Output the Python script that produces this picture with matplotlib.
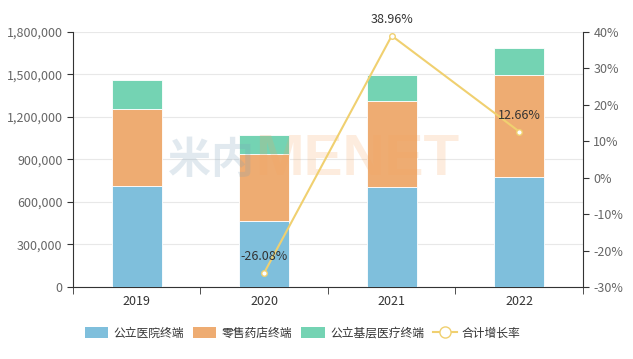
import numpy as np
import matplotlib.pyplot as plt
from matplotlib.patches import Patch
from matplotlib.lines import Line2D
from matplotlib.ticker import FuncFormatter, FixedLocator

plt.rcParams['font.family'] = ['Noto Sans CJK SC', 'DejaVu Sans']

years = ['2019', '2020', '2021', '2022']
hospital = [713000, 464000, 704000, 774000]   # 公立医院终端
pharmacy = [543000, 473000, 607000, 725000]   # 零售药店终端
primary = [205000, 138000, 185000, 188000]    # 公立基层医疗终端
growth = [None, -26.08, 38.96, 12.66]         # 合计增长率

c_blue = '#7fbfdc'
c_orange = '#eeac72'
c_green = '#74d3b3'
c_line = '#f0d070'
c_text = '#666666'

fig = plt.figure(figsize=(6.33, 3.59), dpi=100)
ax = fig.add_axes([0.1153, 0.2006, 0.8057, 0.7103])
x = np.arange(len(years))
w = 0.39

hosp = np.array(hospital)
phar = np.array(pharmacy)
prim = np.array(primary)
ax.bar(x, hosp, w, color=c_blue, edgecolor='white', linewidth=0.6, zorder=3)
ax.bar(x, phar, w, bottom=hosp, color=c_orange, edgecolor='white', linewidth=0.6, zorder=3)
ax.bar(x, prim, w, bottom=hosp + phar, color=c_green, edgecolor='white', linewidth=0.6, zorder=3)

ax.set_ylim(0, 1800000)
ax.set_yticks(np.arange(0, 1800001, 300000))
ax.yaxis.set_major_formatter(FuncFormatter(lambda v, p: f'{int(v):,}'))
ax.grid(axis='y', color='#e8e8e8', linewidth=0.8, zorder=0)
ax.set_xlim(-0.5, 3.5)
ax.set_xticks(x)
ax.set_xticklabels(years)
ax.xaxis.set_minor_locator(FixedLocator(np.arange(-0.5, 3.6, 1)))
ax.tick_params(axis='x', which='major', length=0, labelsize=9, colors='#333333', pad=6)
ax.tick_params(axis='x', which='minor', length=5, color='#333333')
ax.tick_params(axis='y', length=4, labelsize=9, labelcolor=c_text, color='#333333')
for s in ['top', 'right']:
    ax.spines[s].set_visible(False)
ax.spines['left'].set_color('#333333')
ax.spines['bottom'].set_color('#333333')

# watermark
ax.text(0.92, 896000, '米内', fontsize=31, color='#7a9fb8', alpha=0.22,
        ha='right', va='center', fontweight='bold', zorder=4)
ax.text(0.93, 896000, 'MENET', fontsize=42, color='#f5a35e', alpha=0.2,
        ha='left', va='center', fontweight='bold', zorder=4, family='Liberation Sans')

ax2 = ax.twinx()
ax2.set_ylim(-30, 40)
ax2.set_yticks(np.arange(-30, 41, 10))
ax2.yaxis.set_major_formatter(FuncFormatter(lambda v, p: f'{int(v)}%'))
ax2.tick_params(axis='y', length=4, labelsize=9, labelcolor=c_text, color='#333333')
for s in ['top', 'left', 'bottom']:
    ax2.spines[s].set_visible(False)
ax2.spines['right'].set_color('#333333')

gx = [i for i, g in enumerate(growth) if g is not None]
gy = [g for g in growth if g is not None]
ax2.plot(gx, gy, color=c_line, linewidth=1.5, marker='o', markersize=4,
         markerfacecolor='white', markeredgecolor=c_line, zorder=5)
for xi, yi in zip(gx, gy):
    ax2.annotate(f'{yi:.2f}%', (xi, yi), xytext=(0, 7), textcoords='offset points',
                 ha='center', va='bottom', fontsize=9, color='#333333', zorder=6)

handles = [
    Patch(facecolor=c_blue, label='公立医院终端'),
    Patch(facecolor=c_orange, label='零售药店终端'),
    Patch(facecolor=c_green, label='公立基层医疗终端'),
    Line2D([0], [0], color=c_line, linewidth=1.5, marker='o', markersize=8,
           markerfacecolor='white', markeredgecolor=c_line, label='合计增长率'),
]
fig.legend(handles=handles, loc='center', bbox_to_anchor=(0.478, 0.072), ncol=4,
           frameon=False, fontsize=8.5, handlelength=2.0, handleheight=1.0,
           columnspacing=0.75, handletextpad=0.45, labelcolor='#333333')

fig.savefig('out.png', dpi=100)
